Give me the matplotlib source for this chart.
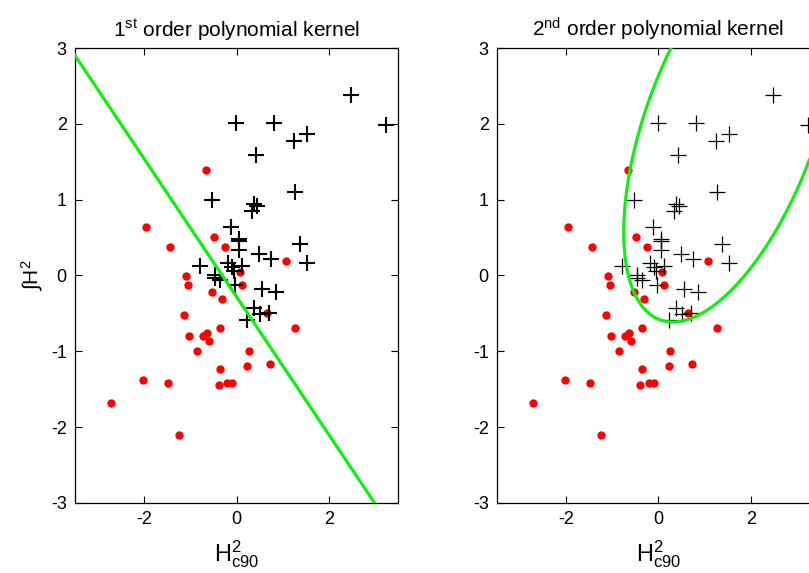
import numpy as np
import matplotlib
matplotlib.use("Agg")
import matplotlib.pyplot as plt

plt.rcParams["font.family"] = ["Liberation Sans", "DejaVu Sans"]
plt.rcParams["mathtext.fontset"] = "custom"
plt.rcParams["mathtext.rm"] = "Liberation Sans"
plt.rcParams["mathtext.it"] = "Liberation Sans"
plt.rcParams["mathtext.bf"] = "Liberation Sans:bold"
plt.rcParams["axes.unicode_minus"] = False

# Class +1 samples (plus markers)
pos_x = [2.48, 3.25, -0.01, 0.81, 1.25, 1.52, 0.42, 1.27, -0.54, 0.37, 0.45,
         0.34, -0.12, 0.05, 0.06, 0.05, 1.38, 0.48, 0.75, 1.53, -0.79, -0.19,
         -0.10, 0.11, -0.46, -0.46, -0.35, -0.06, -0.04, 0.56, 0.86, 0.38,
         0.51, 0.70, 0.23]
pos_y = [2.38, 1.98, 2.01, 2.01, 1.78, 1.86, 1.59, 1.10, 0.99, 0.94, 0.92,
         0.85, 0.64, 0.48, 0.46, 0.33, 0.41, 0.28, 0.22, 0.17, 0.13, 0.17,
         0.11, 0.13, 0.00, -0.03, -0.06, 0.06, -0.13, -0.18, -0.22, -0.43,
         -0.51, -0.49, -0.59]

# Class -1 samples (red dots)
neg_x = [-0.67, -1.96, -1.45, -0.49, -0.24, 1.08, -1.10, 0.07, -1.06, 0.12,
         -0.53, -0.31, -1.14, 0.65, 1.26, -0.35, -1.03, -0.72, -0.63, -0.60,
         -0.85, 0.26, -0.35, 0.22, 0.72, -2.03, -1.49, -0.39, -0.20, -0.10,
         -2.71, -1.25]
neg_y = [1.39, 0.64, 0.38, 0.51, 0.38, 0.19, -0.01, 0.04, -0.13, -0.13,
         -0.22, -0.31, -0.52, -0.49, -0.69, -0.69, -0.80, -0.80, -0.76, -0.86,
         -0.99, -0.99, -1.23, -1.20, -1.17, -1.38, -1.42, -1.44, -1.42, -1.42,
         -1.68, -2.11]

# 1st order kernel: f(x, y) = w1*x + w2*y + b
lin_w = [0.909, 1.0]
lin_b = 0.28

# 2nd order kernel boundary samples, used to recover the quadratic decision function
quad_bx = [0.27, -0.15, -0.52, -0.67, -0.76, -0.71, -0.52, -0.23, 0.21, 0.73,
           1.17, 1.54, 1.83, 2.20, 2.35, 2.94, 3.34]
quad_by = [2.99, 2.44, 1.56, 1.25, 0.61, 0.15, -0.23, -0.49, -0.62, -0.54,
           -0.40, -0.21, -0.03, 0.21, 0.41, 1.12, 1.60]

xticks = [-2, 0, 2]
yticks = [-3, -2, -1, 0, 1, 2, 3]
titles = [r"1$^{\mathrm{st}}$ order polynomial kernel",
          r"2$^{\mathrm{nd}}$ order polynomial kernel"]
xlabel = r"H$^{2}_{\mathrm{c90}}$"
ylabel = r"$\int$H$^{2}$"

# quadratic fit a x^2 + b xy + c y^2 + d x + e y + f = 0
bx = np.asarray(quad_bx)
by = np.asarray(quad_by)
D = np.column_stack([bx**2, bx * by, by**2, bx, by, np.ones_like(bx)])
_, _, vt = np.linalg.svd(D)
quad_c = vt[-1]

gx, gy = np.meshgrid(np.linspace(-3.6, 3.6, 600), np.linspace(-3.2, 3.2, 600))
f_lin = lin_w[0] * gx + lin_w[1] * gy + lin_b
f_quad = (quad_c[0] * gx**2 + quad_c[1] * gx * gy + quad_c[2] * gy**2
          + quad_c[3] * gx + quad_c[4] * gy + quad_c[5])

fig = plt.figure(figsize=(8.09, 5.73), dpi=100)

axw, axh = 0.3993, 0.794
axes = [fig.add_axes([0.0927, 0.1222, axw, axh]),
        fig.add_axes([0.6143, 0.1222, axw, axh])]

for i, ax in enumerate(axes):
    ax.plot(neg_x, neg_y, "o", color="#ff0000", markersize=6,
            markeredgewidth=0, zorder=3)
    plus_lw = 1.5 if i == 0 else 0.9
    ax.plot(pos_x, pos_y, "+", color="black", markersize=11,
            markeredgewidth=plus_lw, zorder=4)
    field = f_lin if i == 0 else f_quad
    ax.contour(gx, gy, field, levels=[0], colors="#11ee11",
               linewidths=2.3, zorder=5)
    ax.set_xlim(-3.5, 3.5)
    ax.set_ylim(-3, 3)
    ax.set_xticks(xticks)
    ax.set_yticks(yticks)
    ax.tick_params(direction="in", top=True, right=True, length=5,
                   width=0.8, labelsize=13, pad=6)
    for s in ax.spines.values():
        s.set_linewidth(0.9)
    ax.set_title(titles[i], fontsize=15, pad=8)
    ax.set_xlabel(xlabel, fontsize=17, labelpad=7)

axes[0].set_ylabel(ylabel, fontsize=15, labelpad=4)

fig.savefig("out.png", dpi=100)
